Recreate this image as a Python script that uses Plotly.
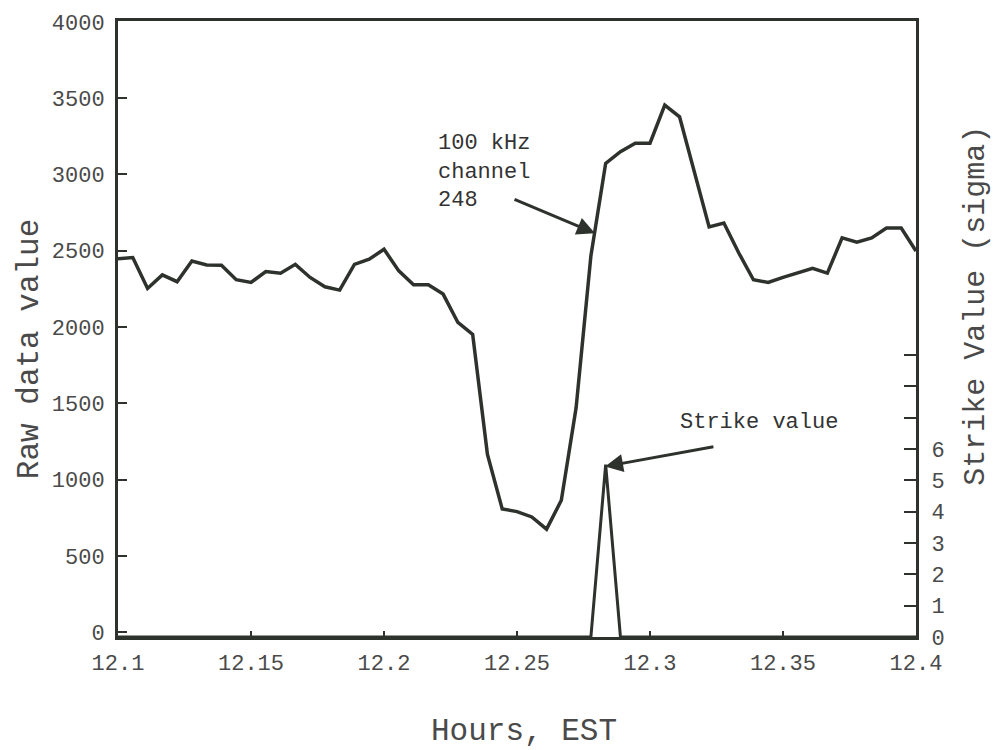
import plotly.graph_objects as go

# Sample times: one reading every 20 s from 12.1 to 12.4 h EST
hours = [12.1 + i / 180 for i in range(55)]

# 100 kHz channel 248 raw readings
raw_values = [
    2448, 2455, 2253, 2342, 2297, 2433, 2407, 2405, 2310, 2292,
    2364, 2353, 2411, 2325, 2264, 2242, 2411, 2444, 2510, 2368,
    2277, 2277, 2216, 2030, 1952, 1165, 808, 790, 755, 675,
    864, 1470, 2466, 3073, 3149, 3205, 3205, 3455, 3378, 3006,
    2656, 2682, 2487, 2310, 2292, 2325, 2358, 2385, 2353, 2584,
    2556, 2584, 2649, 2649, 2498,
]

# Strike detector output (sigma)
strike_values = [0.0] * 55
strike_values[33] = 5.5

x_ticks = [12.1, 12.15, 12.2, 12.25, 12.3, 12.35, 12.4]
x_tick_text = ["12.1", "12.15", "12.2", "12.25", "12.3", "12.35", "12.4"]
raw_ticks = [0, 500, 1000, 1500, 2000, 2500, 3000, 3500, 4000]
strike_ticks = list(range(10))
strike_tick_text = ["0", "1", "2", "3", "4", "5", "6", "", "", ""]

INK = "#2e322d"
TEXT = "#4a4a4a"
FONT = "Liberation Mono, Courier New, monospace"

fig = go.Figure()
fig.add_trace(go.Scatter(
    x=hours, y=raw_values, mode="lines",
    line=dict(color=INK, width=3.5), yaxis="y", showlegend=False,
))
fig.add_trace(go.Scatter(
    x=hours, y=strike_values, mode="lines",
    line=dict(color=INK, width=3), yaxis="y2", showlegend=False,
))

fig.update_layout(
    width=998, height=750,
    margin=dict(l=118, r=82, t=16, b=113),
    paper_bgcolor="white", plot_bgcolor="white",
    font=dict(family=FONT, color=TEXT, size=22),
    xaxis=dict(
        range=[12.1, 12.4], tickvals=x_ticks, ticktext=x_tick_text,
        showgrid=False, zeroline=False,
        showline=True, linecolor=INK, linewidth=3, mirror=True,
        ticks="inside", ticklen=6, tickwidth=2, tickcolor=INK,
        tickfont=dict(size=22, color=TEXT), ticklabelstandoff=4,
    ),
    yaxis=dict(
        range=[-32, 4006], tickvals=raw_ticks,
        showgrid=False, zeroline=False,
        showline=True, linecolor=INK, linewidth=3,
        ticks="inside", ticklen=9, tickwidth=2, tickcolor=INK,
        tickfont=dict(size=22, color=TEXT), ticklabelstandoff=6,
    ),
    yaxis2=dict(
        range=[0, 19.65], tickvals=strike_ticks, ticktext=strike_tick_text,
        overlaying="y", side="right", anchor="x",
        showgrid=False, zeroline=False,
        showline=True, linecolor=INK, linewidth=3,
        ticks="inside", ticklen=12, tickwidth=2, tickcolor=INK,
        tickfont=dict(size=22, color=TEXT), ticklabelstandoff=8,
    ),
    annotations=[
        # axis titles
        dict(text="Raw data value", xref="paper", yref="paper",
             x=-0.111, y=0.468, textangle=-90, showarrow=False,
             font=dict(size=31, color=TEXT), xanchor="center", yanchor="middle"),
        dict(text="Strike Value (sigma)", xref="paper", yref="paper",
             x=1.076, y=0.537, textangle=-90, showarrow=False,
             font=dict(size=30, color=TEXT), xanchor="center", yanchor="middle"),
        dict(text="Hours, EST", xref="paper", yref="paper",
             x=0.509, y=-0.153, showarrow=False,
             font=dict(size=31, color=TEXT), xanchor="center", yanchor="middle"),
        # callouts
        dict(text="100 kHz<br>channel<br>248", xref="x", yref="y",
             x=12.2196, y=3018, showarrow=False, align="left",
             font=dict(size=22, color="#333333"), xanchor="left", yanchor="middle"),
        dict(text="", xref="x", yref="y", x=12.2793, y=2615,
             axref="x", ayref="y", ax=12.2485, ay=2841,
             showarrow=True, arrowhead=2, arrowsize=1.2, arrowwidth=3,
             arrowcolor=INK),
        dict(text="Strike value", xref="x", yref="y",
             x=12.3105, y=1373, showarrow=False, align="left",
             font=dict(size=22, color="#333333"), xanchor="left", yanchor="middle"),
        dict(text="", xref="x", yref="y2", x=12.2831, y=5.44,
             axref="x", ayref="y2", ax=12.3244, ay=6.08,
             showarrow=True, arrowhead=2, arrowsize=1.2, arrowwidth=3,
             arrowcolor=INK),
    ],
)

fig.write_html("out.html")
